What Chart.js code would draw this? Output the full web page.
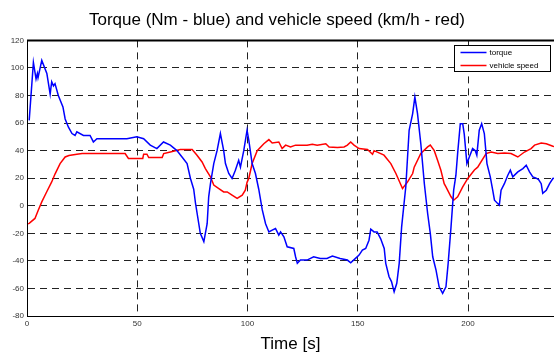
<!DOCTYPE html>
<html lang="en">
<head>
    <meta charset="UTF-8">
    <title>Torque and vehicle speed</title>
    <script src="https://cdn.jsdelivr.net/npm/chart.js"></script>
    <style>
        body { margin: 0; background: #fff; }
        #wrap { width: 554px; height: 356px; }
    </style>
</head>
<body>
    <div id="wrap">
        <canvas id="torqueChart" width="554" height="356"></canvas>
    </div>
    <script>
        // data (time in s)
        const torqueTime = [1, 2.9, 4.1, 4.7, 5.0, 6.7, 9.0, 10.5, 11.2, 12.0, 12.7, 14.2, 16.3, 17.3, 18.8, 20.4, 21.8, 22.6, 25.6, 28.6,
            30.1, 31.7, 37.7, 45.3, 49.8, 52.9, 55.9, 58.9, 61.9, 65.0, 68.0, 70.3, 72.6, 74.1, 75.6, 76.4, 78.6, 80.2, 81.7, 82.4,
            83.2, 84.7, 86.2, 87.7, 89.2, 90.0, 91.5, 93.0, 94.5, 96.0, 96.8, 98.3, 99.8, 100.6, 102.1, 103.6, 105.1, 106.7, 108.2, 109.7,
            111.2, 112.7, 114.2, 115.0, 116.5, 118.0, 121.0, 121.8, 122.6, 124.0, 127.0, 130.0, 133.0, 136.0, 138.5, 142.0, 145.3, 146.8, 149.1, 150.6,
            152.1, 153.6, 155.1, 155.9, 157.4, 158.8, 160.4, 162.0, 162.7, 164.2, 165.3, 166.5, 167.7, 168.8, 169.9, 171.0, 171.8, 173.3, 174.9, 175.9,
            177.1, 178.6, 180.2, 181.7, 182.9, 184.0, 185.5, 186.9, 188.5, 190.0, 191.0, 192.3, 193.5, 194.5, 195.3, 196.5, 197.6, 198.3, 199.5, 200.6,
            202.1, 203.3, 204.0, 205.1, 206.2, 207.4, 208.6, 210.1, 211.2, 212.0, 214.2, 215.0, 216.5, 218.0, 219.2, 220.3, 222.6, 224.9, 226.4, 227.9,
            229.4, 230.9, 232.0, 233.2, 233.9, 235.5, 237.0, 238.5, 239];
        const torqueValues = [62, 104, 92, 96, 93, 105.5, 96, 81, 90, 87, 88.6, 80, 71.7, 63, 57, 52.4, 51, 53.6, 51, 51,
            46.3, 48.7, 48.7, 48.7, 50, 48.7, 44, 41.5, 46.3, 44, 40, 35.4, 30.6, 20, 12, 2, -20, -26, -13, 6.5,
            16, 30.6, 40, 52.4, 40, 30.6, 23.4, 19.8, 25.8, 33, 28, 40, 54.8, 47.5, 30.6, 23.4, 12, -3, -13, -19,
            -17.7, -16.5, -21.3, -19, -22.5, -29.8, -31, -37, -41.8, -39.4, -39.4, -37, -38.2, -38.2, -36.5, -38.2, -39.4, -41.4, -38, -35.8,
            -32.2, -31, -25, -17, -19, -19, -24, -31, -41.8, -51.5, -55, -62.4, -56.3, -41.8, -15.3, 1.7, 14, 54.8, 66.9, 78.9,
            66.9, 45, 16, -5.6, -20, -37, -46.7, -58.8, -63.6, -58.8, -41.8, -15.3, 11.3, 22, 38, 59.6, 59.6, 52, 30.6, 35.4,
            41.5, 40, 36.7, 54.8, 59.6, 52.4, 30.6, 21, 11.3, 4, 0.4, 11.3, 16, 22, 25.8, 21, 24.6, 27, 29.4, 24.6,
            21, 20, 19, 16, 9, 11.3, 16, 19.8, 20];

        const speedTime = [0.5, 1, 3.6, 5.1, 6.7, 8.9, 11.2, 12.7, 15, 17.3, 19, 22.6, 25, 44.5, 46, 52.5, 52.9, 54.4, 55.2, 61.3,
            62, 65, 69.5, 74.9, 77.1, 79.4, 80.9, 83.2, 84.7, 87, 89.2, 90.8, 93, 95.3, 97.6, 99, 99.8, 100.6, 102.1, 104.4,
            107.4, 109.7, 111.2, 114.2, 115.7, 117.3, 119.5, 121.8, 127, 129.4, 131.6, 135.5, 137, 140.8, 143.8, 145.3, 146.8, 148.3, 150.6, 154.4,
            156.7, 157.4, 161.9, 165, 167.3, 170.3, 172.6, 174.9, 175.6, 178.6, 181.7, 182.9, 184.7, 186.2, 187.7, 189.2, 190, 192.3, 193.5, 195.3,
            197.6, 199.9, 202.9, 204.4, 208.2, 210.5, 213.5, 216.5, 219.5, 222.6, 225.6, 228.6, 230.2, 233.2, 235.5, 238.5, 239];
        const speedValues = [-13, -12.8, -9.2, -3.2, 2.8, 10, 17.3, 23, 30.6, 35.4, 36.5, 37.4, 37.9, 37.9, 34.3, 34.3, 37.4, 37.4, 35, 35,
            37.9, 39, 40.8, 40.8, 36.7, 31.8, 27, 21, 15, 12.5, 10, 10, 7.7, 5.3, 7.7, 11.3, 17, 20, 30.6, 40,
            45, 48, 45.6, 46.3, 41.5, 44, 42.7, 44, 44, 44.6, 44, 45, 42.7, 42.2, 42.7, 44, 46.3, 44, 41.5, 40.8,
            37.4, 40, 36.7, 30.6, 23.4, 12.5, 17.3, 23.4, 28, 37.9, 42.7, 44, 40, 33, 25.8, 16, 13.7, 6.5, 4, 6.5,
            13.7, 19.8, 26, 28, 37.9, 39, 37.9, 38.3, 37.9, 35.4, 39, 41.5, 44, 45.6, 45, 43.2, 43];

        const seriesNames = ['torque', 'vehicle speed'];
        const seriesColors = ['#0000ff', '#ff0000'];

        const fontFamily = "'Liberation Sans', Arial, sans-serif";

        // top frame line (matlab box)
        const topFrame = {
            id: 'topFrame',
            afterDatasetsDraw(chart) {
                const { ctx, chartArea } = chart;
                ctx.save();
                ctx.strokeStyle = '#000';
                ctx.lineWidth = 2;
                ctx.beginPath();
                ctx.moveTo(chartArea.left, chartArea.top);
                ctx.lineTo(chartArea.right, chartArea.top);
                ctx.stroke();
                ctx.restore();
            }
        };

        // boxed legend in the upper right corner
        const boxLegend = {
            id: 'boxLegend',
            afterDraw(chart) {
                const { ctx, chartArea } = chart;
                const w = 96, h = 26;
                const left = Math.round(chartArea.right - 4 - w) + 0.5;
                const top = Math.round(chartArea.top + 5) + 0.5;
                ctx.save();
                ctx.fillStyle = '#fff';
                ctx.fillRect(left, top, w, h);
                ctx.strokeStyle = '#000';
                ctx.lineWidth = 1;
                ctx.strokeRect(left, top, w, h);
                ctx.font = '8px ' + fontFamily;
                ctx.textBaseline = 'middle';
                chart.data.datasets.forEach((ds, i) => {
                    const y = top + 7 + i * 13;
                    ctx.strokeStyle = ds.borderColor;
                    ctx.lineWidth = 1.5;
                    ctx.beginPath();
                    ctx.moveTo(left + 6, y);
                    ctx.lineTo(left + 32, y);
                    ctx.stroke();
                    ctx.fillStyle = '#000';
                    ctx.fillText(ds.label, left + 35, y);
                });
                ctx.restore();
            }
        };

        const ctx = document.getElementById('torqueChart').getContext('2d');
        const torqueChart = new Chart(ctx, {
            type: 'line',
            data: {
                datasets: [{
                    label: seriesNames[0],
                    data: torqueTime.map((t, i) => ({ x: t, y: torqueValues[i] })),
                    borderColor: seriesColors[0],
                    borderWidth: 1.5,
                    pointRadius: 0,
                    tension: 0
                }, {
                    label: seriesNames[1],
                    data: speedTime.map((t, i) => ({ x: t, y: speedValues[i] })),
                    borderColor: seriesColors[1],
                    borderWidth: 1.5,
                    pointRadius: 0,
                    tension: 0
                }]
            },
            options: {
                responsive: false,
                animation: false,
                devicePixelRatio: 1,
                layout: { padding: 0 },
                plugins: {
                    legend: { display: false },
                    tooltip: { enabled: false },
                    title: {
                        display: true,
                        text: 'Torque (Nm - blue) and vehicle speed (km/h - red)',
                        color: '#000',
                        font: { family: fontFamily, size: 17, weight: 'normal' },
                        padding: { top: 10, bottom: 10 }
                    }
                },
                scales: {
                    x: {
                        type: 'linear',
                        min: 0,
                        max: 239,
                        afterFit(scale) { scale.height = 40; },
                        ticks: {
                            stepSize: 50,
                            includeBounds: false,
                            color: '#333',
                            padding: 3,
                            maxRotation: 0,
                            font: { family: fontFamily, size: 8 }
                        },
                        grid: { color: '#222', lineWidth: 1, drawTicks: false },
                        border: { color: '#000', width: 1, dash: [7, 5] },
                        title: {
                            display: true,
                            text: 'Time [s]',
                            color: '#000',
                            font: { family: fontFamily, size: 17 },
                            padding: { top: 0, bottom: 1 }
                        }
                    },
                    y: {
                        min: -80,
                        max: 120,
                        afterFit(scale) { scale.width = 27; },
                        ticks: {
                            stepSize: 20,
                            color: '#333',
                            padding: 3,
                            font: { family: fontFamily, size: 8 }
                        },
                        grid: { color: '#222', lineWidth: 1, drawTicks: false },
                        border: { color: '#000', width: 1, dash: [7, 5] }
                    }
                }
            },
            plugins: [topFrame, boxLegend]
        });
    </script>
</body>
</html>
